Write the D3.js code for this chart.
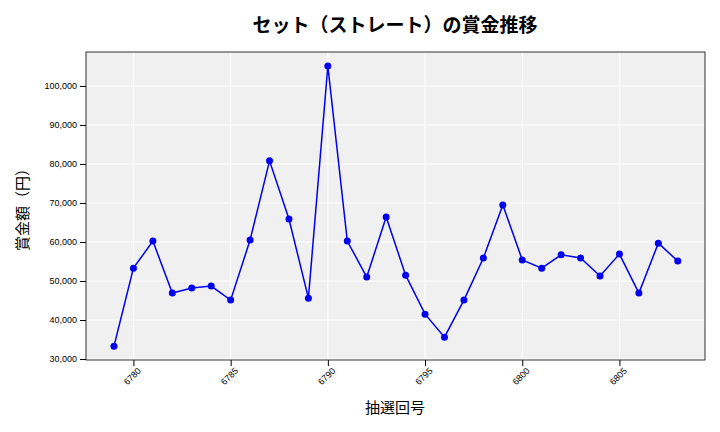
<!DOCTYPE html>
<html><head><meta charset="utf-8">
<script src="https://cdn.jsdelivr.net/npm/d3@7"></script>
<style>body{margin:0;background:#fff;font-family:"Noto Sans CJK JP","Noto Sans",sans-serif;}</style>
</head><body>
<div id="chart"></div>
<script>
var draws = d3.range(6779, 6809);
var prizes = [33300, 53300, 60250, 46900, 48200, 48700, 45100, 60500, 80800, 65900,
  45600, 105100, 60250, 51000, 66400, 51500, 41500, 35600, 45100, 55900,
  69500, 55400, 53300, 56700, 55900, 51300, 56900, 46900, 59700, 55100];
var xTicks = [6780, 6785, 6790, 6795, 6800, 6805];
var yTicks = [30000, 40000, 50000, 60000, 70000, 80000, 90000, 100000];
var data = draws.map(function(d, i) { return {draw: d, prize: prizes[i]}; });

var svg = d3.select("#chart").append("svg").attr("width", 720).attr("height", 432);
var L = 86, R = 705, T = 52, B = 360;

var x = d3.scaleLinear().domain([6777.56, 6809.4]).range([L, R]);
var y = d3.scaleLinear().domain([29750, 108700]).range([B, T]);

svg.append("rect").attr("x", L).attr("y", T).attr("width", R - L).attr("height", B - T)
  .attr("fill", "#f0f0f0");

svg.selectAll(".gx").data(xTicks).enter().append("line")
  .attr("x1", d => x(d)).attr("x2", d => x(d)).attr("y1", T).attr("y2", B)
  .attr("stroke", "#fff").attr("stroke-width", 1);
svg.selectAll(".gy").data(yTicks).enter().append("line")
  .attr("x1", L).attr("x2", R).attr("y1", d => y(d)).attr("y2", d => y(d))
  .attr("stroke", "#fff").attr("stroke-width", 1);

svg.append("rect").attr("x", L).attr("y", T).attr("width", R - L).attr("height", B - T)
  .attr("fill", "none").attr("stroke", "#000").attr("stroke-width", 0.8);

var xa = svg.append("g").attr("transform", "translate(0," + B + ")")
  .call(d3.axisBottom(x).tickValues(xTicks).tickFormat(d3.format("d")).tickSizeOuter(0));
xa.select(".domain").remove();
xa.selectAll("text").attr("font-size", 9).attr("text-anchor", "end")
  .attr("transform", "rotate(-45)").attr("dx", "-0.3em").attr("dy", "0.5em");

var ya = svg.append("g").attr("transform", "translate(" + L + ",0)")
  .call(d3.axisLeft(y).tickValues(yTicks).tickFormat(d3.format(",")).tickSizeOuter(0));
ya.select(".domain").remove();
ya.selectAll("text").attr("font-size", 9);

var line = d3.line().x(d => x(d.draw)).y(d => y(d.prize));
svg.append("path").datum(data).attr("fill", "none").attr("stroke", "#0000ee")
  .attr("stroke-width", 1.5).attr("d", line);
svg.selectAll(".pt").data(data).enter().append("circle")
  .attr("cx", d => x(d.draw)).attr("cy", d => y(d.prize)).attr("r", 3.5).attr("fill", "#0000ee");

svg.append("text").attr("x", 395).attr("y", 32).attr("text-anchor", "middle")
  .attr("font-size", 19).attr("font-weight", "bold").text("セット（ストレート）の賞金推移");
svg.append("text").attr("x", 395).attr("y", 413).attr("text-anchor", "middle")
  .attr("font-size", 15).text("抽選回号");
svg.append("text").attr("transform", "translate(28," + ((T + B) / 2) + ") rotate(-90)")
  .attr("text-anchor", "middle").attr("font-size", 15).text("賞金額（円）");
</script>
</body></html>
